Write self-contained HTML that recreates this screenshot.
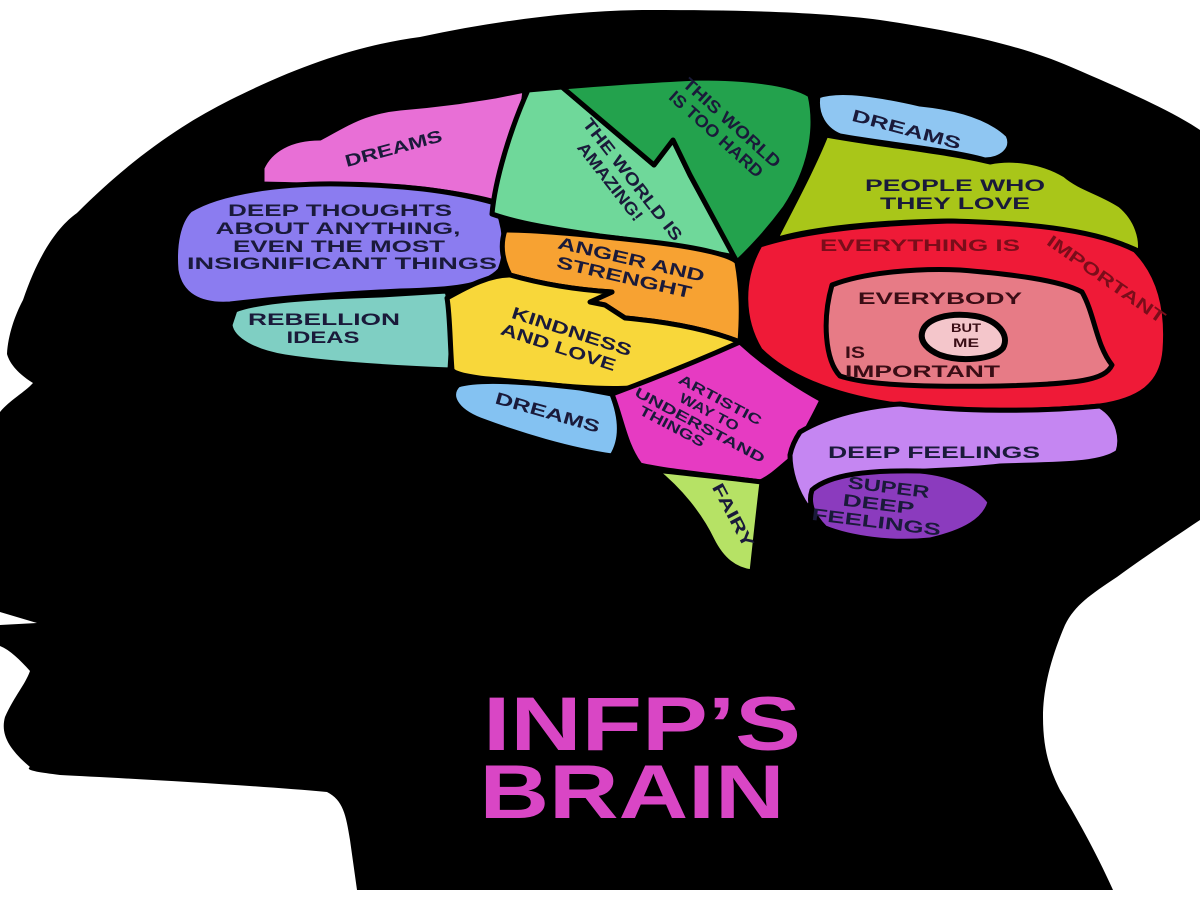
<!DOCTYPE html>
<html><head><meta charset="utf-8"><style>
html,body{margin:0;padding:0;background:#fff;}
svg{display:block}
text{font-family:"Liberation Sans",sans-serif;font-weight:bold;fill:#1a1a3a;text-anchor:middle}
</style></head><body>
<svg width="1200" height="900" viewBox="0 0 1200 900" xmlns="http://www.w3.org/2000/svg">
<rect width="1200" height="900" fill="#fff"/>
<path fill="#000" d="M23,300 C40,250 60,225 77,213 C130,160 180,125 230,100 C300,65 360,45 420,37 C500,20 580,10 650,10 C740,10 820,12 880,20 C960,32 1020,45 1071,67 C1120,88 1170,110 1200,130 L1200,520 C1170,540 1140,560 1117,577 C1090,595 1075,605 1065,625 C1050,660 1043,690 1043,717 C1043,750 1050,770 1060,790 C1075,815 1095,850 1113,890 L357,890 L350,840 C346,815 343,800 327,792 C250,785 120,778 60,775 C35,772 25,770 30,767 C10,750 0,735 5,717 C15,695 25,685 30,671 C20,660 10,650 0,646 L0,625 L37,623 L0,612 L0,412 C10,400 25,392 33,383 C20,375 10,365 7,354 C8,335 15,315 23,300 Z"/>
<g stroke="#000" stroke-width="5" stroke-linejoin="round">
<path fill="#e86fd6" d="M262,168 C270,150 290,138 320,138 C340,128 360,112 400,108 C440,105 470,100 495,96 L525,90 C522,120 512,160 495,202 C470,195 420,187 380,186 C330,185 290,185 262,184 Z"/>
<path fill="#8b7cf0" d="M190,210 C220,192 280,183 340,184 C400,185 450,190 495,203 C505,225 508,250 500,270 C485,287 450,290 400,291 C340,294 280,298 230,304 C200,306 180,295 176,270 C174,245 178,222 190,210 Z"/>
<path fill="#7fcfc3" d="M235,310 C260,300 320,297 380,295 L447,291 C452,310 452,345 450,370 C400,368 330,364 285,357 C255,352 232,340 230,325 Z"/>
<path fill="#6fd89a" d="M528,90 L562,87 L654,165 L673,140 L690,175 L735,257 C700,250 650,242 600,236 C560,230 520,224 492,214 C495,180 510,130 528,90 Z"/>
<path fill="#23a24d" d="M562,87 C600,84 650,80 700,78 C740,78 790,82 810,95 C818,130 810,170 785,208 C765,235 745,255 737,262 L690,175 L673,140 L654,165 Z"/>
<path fill="#8fc6f2" d="M818,96 C840,88 880,95 920,104 C960,108 990,118 1008,135 C1015,150 1000,160 985,160 C950,150 890,145 840,136 C825,130 815,115 818,96 Z"/>
<path fill="#a9c619" d="M826,135 C880,145 950,152 990,162 C1010,158 1040,160 1065,175 C1080,188 1100,192 1120,205 C1138,220 1142,240 1140,252 C1110,236 1050,226 950,221 C860,222 800,232 775,240 C790,210 812,170 826,135 Z"/>
<path fill="#ef1a37" d="M760,245 C800,232 860,224 950,221 C1040,223 1100,232 1135,250 C1160,275 1168,310 1165,350 C1162,385 1140,400 1100,406 C1040,412 960,412 890,404 C830,395 785,375 760,350 C742,320 740,280 760,245 Z"/>
<path fill="#e77b86" d="M832,285 C865,272 920,268 960,270 C1010,274 1060,280 1082,292 C1095,315 1096,345 1112,365 C1105,380 1080,384 1000,386 C930,387 870,386 840,376 C825,360 822,320 832,285 Z"/>
<path fill="#f4c6cb" stroke-width="6" d="M922,333 C925,318 950,312 975,316 C998,320 1010,335 1003,348 C993,360 960,362 940,355 C928,350 920,342 922,333 Z"/>
<path fill="#f7a232" d="M505,230 C540,230 600,236 660,243 C700,248 730,255 737,262 C742,290 742,315 740,342 C710,330 670,322 625,318 L605,305 L590,302 L612,292 C580,290 545,285 510,275 C502,260 500,245 505,230 Z"/>
<path fill="#f8d73a" d="M447,298 C470,285 490,275 510,275 C545,285 580,290 612,292 L590,302 L605,305 L625,318 C670,322 710,330 740,342 C710,360 670,372 630,388 C600,390 560,386 500,380 C470,378 455,374 452,370 C450,345 450,315 447,298 Z"/>
<path fill="#84c2f2" d="M458,385 C480,378 530,382 580,388 L612,394 C622,420 622,440 612,456 C570,450 520,435 480,420 C455,410 448,395 458,385 Z"/>
<path fill="#e63bc2" d="M612,394 C650,380 700,360 740,342 C765,365 795,385 822,400 C810,425 798,445 790,460 C778,470 770,478 760,482 C720,476 670,472 640,465 C625,445 622,420 612,394 Z"/>
<path fill="#b6e265" d="M655,470 C690,474 730,478 762,482 C758,515 755,545 752,572 C735,570 722,560 712,540 C700,515 680,490 655,470 Z"/>
<path fill="#c586f2" d="M800,432 C830,414 870,406 900,404 C960,412 1040,412 1100,406 C1120,418 1122,440 1118,452 C1100,465 1060,464 1000,466 C950,472 900,470 855,476 C830,482 815,495 808,508 C795,490 790,470 790,455 C792,445 796,438 800,432 Z"/>
<path fill="#8b3bbe" d="M812,490 C830,474 870,470 920,471 C955,474 980,488 990,502 C985,520 965,532 930,540 C890,544 850,538 825,528 C812,515 808,502 812,490 Z"/>
</g>
<g font-size="17">
<text transform="translate(395,154) rotate(-15)" textLength="100" lengthAdjust="spacingAndGlyphs">DREAMS</text>
<text x="340" y="216" textLength="224" lengthAdjust="spacingAndGlyphs">DEEP THOUGHTS</text>
<text x="338" y="234" textLength="245" lengthAdjust="spacingAndGlyphs">ABOUT ANYTHING,</text>
<text x="339" y="252" textLength="212" lengthAdjust="spacingAndGlyphs">EVEN THE MOST</text>
<text x="342" y="269" textLength="310" lengthAdjust="spacingAndGlyphs">INSIGNIFICANT THINGS</text>
<text x="324" y="325" textLength="152" lengthAdjust="spacingAndGlyphs">REBELLION</text>
<text x="323" y="343" textLength="73" lengthAdjust="spacingAndGlyphs">IDEAS</text>
<g transform="translate(628,183) rotate(52)">
<text x="0" y="0" textLength="150" lengthAdjust="spacingAndGlyphs">THE WORLD IS</text>
<text x="-12" y="19" textLength="95" lengthAdjust="spacingAndGlyphs">AMAZING!</text>
</g>
<g transform="translate(728,127) rotate(42)">
<text x="0" y="0" textLength="125" lengthAdjust="spacingAndGlyphs">THIS WORLD</text>
<text x="-4" y="19" textLength="120" lengthAdjust="spacingAndGlyphs">IS TOO HARD</text>
</g>
<text transform="translate(905,135) rotate(15)" textLength="112" lengthAdjust="spacingAndGlyphs">DREAMS</text>
<text x="955" y="191" textLength="180" lengthAdjust="spacingAndGlyphs">PEOPLE WHO</text>
<text x="955" y="209" textLength="150" lengthAdjust="spacingAndGlyphs">THEY LOVE</text>
<text x="920" y="251" textLength="200" lengthAdjust="spacingAndGlyphs" style="fill:#7a0d1a">EVERYTHING IS</text>
<text transform="translate(1103,284) rotate(35)" textLength="140" lengthAdjust="spacingAndGlyphs" style="fill:#7a0d1a">IMPORTANT</text>
<text x="940" y="304" textLength="164" lengthAdjust="spacingAndGlyphs" style="fill:#3a0d15">EVERYBODY</text>
<text font-size="12" x="966" y="332" textLength="30" lengthAdjust="spacingAndGlyphs" style="fill:#3a0d15">BUT</text>
<text font-size="12" x="966" y="347" textLength="26" lengthAdjust="spacingAndGlyphs" style="fill:#3a0d15">ME</text>
<text x="845" y="358" textLength="20" lengthAdjust="spacingAndGlyphs" style="fill:#3a0d15;text-anchor:start">IS</text>
<text x="845" y="377" textLength="155" lengthAdjust="spacingAndGlyphs" style="fill:#3a0d15;text-anchor:start">IMPORTANT</text>
<g transform="translate(630,265) rotate(13)">
<text x="0" y="0" textLength="150" lengthAdjust="spacingAndGlyphs">ANGER AND</text>
<text x="-3" y="19" textLength="138" lengthAdjust="spacingAndGlyphs">STRENGHT</text>
</g>
<g transform="translate(570,337) rotate(18)">
<text x="0" y="0" textLength="125" lengthAdjust="spacingAndGlyphs">KINDNESS</text>
<text x="-8" y="19" textLength="120" lengthAdjust="spacingAndGlyphs">AND LOVE</text>
</g>
<text transform="translate(546,418) rotate(16)" textLength="108" lengthAdjust="spacingAndGlyphs">DREAMS</text>
<g font-size="14" transform="translate(718,404) rotate(28)">
<text x="0" y="0" textLength="92" lengthAdjust="spacingAndGlyphs">ARTISTIC</text>
<text x="-4" y="16" textLength="65" lengthAdjust="spacingAndGlyphs">WAY TO</text>
<text x="-6" y="32" textLength="145" lengthAdjust="spacingAndGlyphs">UNDERSTAND</text>
<text x="-30" y="46" textLength="72" lengthAdjust="spacingAndGlyphs">THINGS</text>
</g>
<text transform="translate(728,518) rotate(62)" textLength="70" lengthAdjust="spacingAndGlyphs">FAIRY</text>
<text x="934" y="458" textLength="212" lengthAdjust="spacingAndGlyphs">DEEP FEELINGS</text>
<g transform="translate(880,492) rotate(7)">
<text x="8" y="0" textLength="82" lengthAdjust="spacingAndGlyphs">SUPER</text>
<text x="0" y="18" textLength="72" lengthAdjust="spacingAndGlyphs">DEEP</text>
<text x="0" y="36" textLength="130" lengthAdjust="spacingAndGlyphs">FEELINGS</text>
</g>
</g>
<text font-size="76" x="642" y="750" textLength="318" lengthAdjust="spacingAndGlyphs" style="fill:#d946c5">INFP’S</text>
<text font-size="76" x="632" y="818" textLength="305" lengthAdjust="spacingAndGlyphs" style="fill:#d946c5">BRAIN</text>
</svg>
</body></html>
